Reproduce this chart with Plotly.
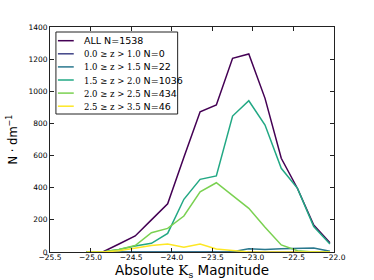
import plotly.graph_objects as go

# ---- data ----
mag_bins = [-25.05, -24.85, -24.65, -24.45, -24.25, -24.05, -23.85, -23.65,
            -23.45, -23.25, -23.05, -22.85, -22.65, -22.45, -22.25, -22.05]

all_vals   = [0, 0, 50, 100, 200, 300, 590, 873, 915, 1205, 1232, 956, 583, 395, 168, 58]
z00_10     = [0, 0, 0, 0, 0, 0, 0, 0, 0, 0, 0, 0, 0, 0, 0, 0]
z10_15     = [0, 0, 0, 0, 0, 0, 0, 0, 0, 2, 20, 15, 20, 22, 25, 5]
z15_20     = [0, 0, 15, 37, 54, 116, 328, 452, 473, 846, 941, 790, 521, 396, 158, 50]
z20_25     = [0, 0, 15, 40, 120, 147, 224, 375, 431, 350, 272, 154, 44, 8, 0, 0]
z25_35     = [0, 0, 8, 25, 40, 50, 29, 50, 19, 10, 0, 0, 0, 0, 0, 0]

series_values = [all_vals, z00_10, z10_15, z15_20, z20_25, z25_35]
series_math = ["", "0.0 ≥ z > 1.0", "1.0 ≥ z > 1.5", "1.5 ≥ z > 2.0",
               "2.0 ≥ z > 2.5", "2.5 ≥ z > 3.5"]
series_counts = ["ALL N=1538", "N=0", "N=22", "N=1036", "N=434", "N=46"]
series_colors = ["#440154", "#414487", "#2a788e", "#22a884", "#7ad151", "#fde725"]

x_ticks = [-25.5, -25.0, -24.5, -24.0, -23.5, -23.0, -22.5, -22.0]
x_tick_labels = ["−25.5", "−25.0", "−24.5", "−24.0", "−23.5", "−23.0", "−22.5", "−22.0"]
y_ticks = [0, 200, 400, 600, 800, 1000, 1200, 1400]

x_title = "Absolute <span style='font-family:DejaVu Serif'>K<sub>s</sub></span> Magnitude"
y_title = "N · dm<sup>−1</sup>"

# ---- figure ----
W, H = 374, 280
L, R, T, B = 47, 40, 27, 28
pw, ph = W - L - R, H - T - B

def px2paper_x(px):
    return (px - L) / pw

def px2paper_y(py):
    return (H - B - py) / ph

fig = go.Figure()
names = []
for i, vals in enumerate(series_values):
    if series_math[i]:
        name = ("<span style='font-family:DejaVu Serif;font-size:8.5px'>%s</span> %s"
                % (series_math[i], series_counts[i]))
    else:
        name = series_counts[i]
    names.append(name)
    fig.add_trace(go.Scatter(x=mag_bins, y=vals, mode="lines",
                             line=dict(color=series_colors[i], width=1.5),
                             name=name, showlegend=False))

axis_common = dict(showline=True, linecolor="#222", linewidth=1, mirror="ticks",
                   ticks="inside", ticklen=4, tickcolor="#222", showgrid=False,
                   zeroline=False, tickfont=dict(family="DejaVu Sans", size=7.5, color="#000"))

fig.update_xaxes(range=[-25.5, -22.0], tickvals=x_ticks, ticktext=x_tick_labels,
                 ticklabelstandoff=-2, **axis_common)
fig.update_yaxes(range=[0, 1400], tickvals=y_ticks,
                 title=dict(text=y_title,
                            font=dict(family="DejaVu Sans", size=11.5, color="#000"),
                            standoff=8),
                 **axis_common)

# ---- manual legend (matplotlib-like compact box) ----
shapes = [dict(type="rect", xref="paper", yref="paper",
               x0=px2paper_x(53), x1=px2paper_x(176),
               y0=px2paper_y(114), y1=px2paper_y(32),
               line=dict(color="#222", width=1), fillcolor="white", layer="above")]
annotations = []
for i, name in enumerate(names):
    yy = px2paper_y(40.7 + 13.1 * i)
    shapes.append(dict(type="line", xref="paper", yref="paper",
                       x0=px2paper_x(55), x1=px2paper_x(71), y0=yy, y1=yy,
                       line=dict(color=series_colors[i], width=1.5), layer="above"))
    annotations.append(dict(xref="paper", yref="paper", x=px2paper_x(79), y=yy,
                            xanchor="left", yanchor="middle", text=name, showarrow=False,
                            font=dict(family="DejaVu Sans", size=9.5, color="#000")))

# x-axis title placed as annotation below the tick labels
annotations.append(dict(xref="paper", yref="paper", x=0.5, y=px2paper_y(271),
                        xanchor="center", yanchor="middle", text=x_title, showarrow=False,
                        font=dict(family="DejaVu Sans", size=13.5, color="#000")))

fig.update_layout(width=W, height=H, margin=dict(l=L, r=R, t=T, b=B),
                  paper_bgcolor="white", plot_bgcolor="white",
                  shapes=shapes, annotations=annotations)

fig.write_html("out.html", config={"displayModeBar": False},
               post_script="document.body.style.margin='0';document.body.style.overflow='hidden';")
